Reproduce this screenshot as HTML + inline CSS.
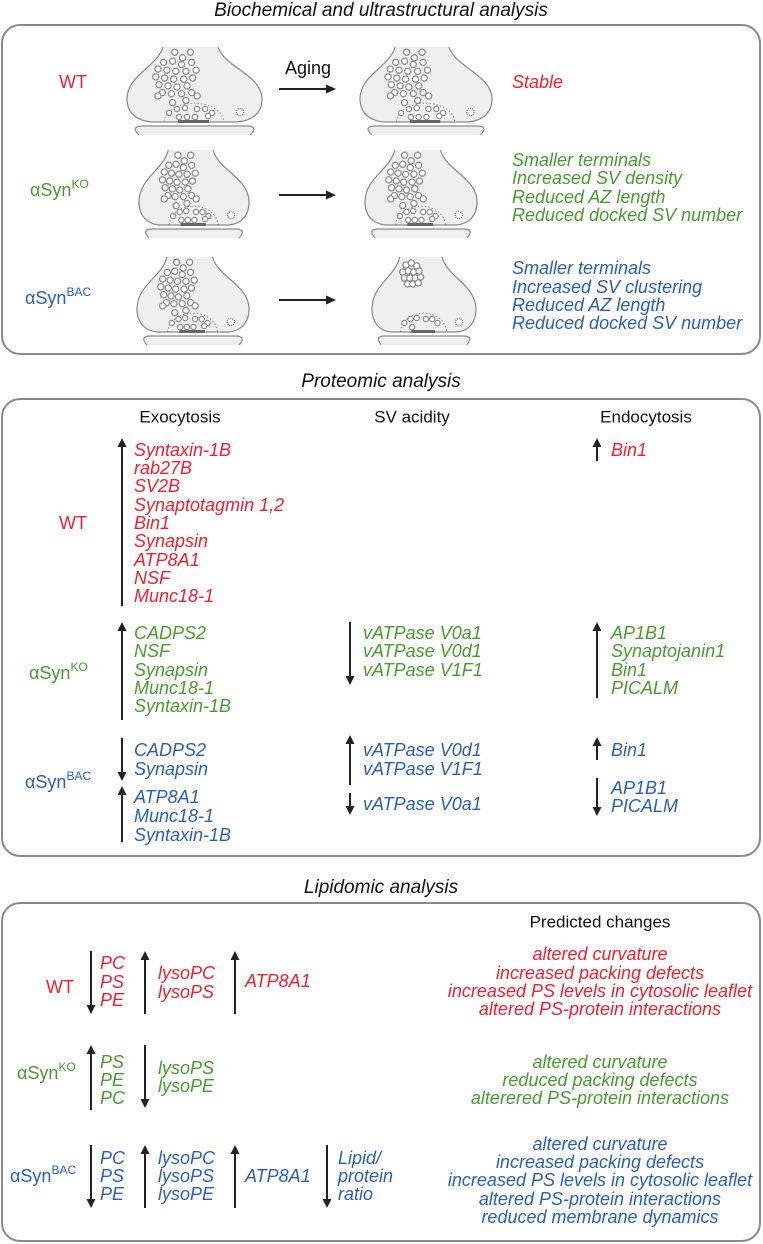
<!DOCTYPE html>
<html><head><meta charset="utf-8"><style>
html,body{margin:0;padding:0;background:#fff;}
svg{display:block;font-family:"Liberation Sans",sans-serif;}
.r{fill:#ee2030}.g{fill:#4a9a32}.b{fill:#2a5fb5}
.it{font-style:italic;font-size:18px}
.lab{font-size:18px}
.hd{font-size:17px;fill:#111}
.tt{font-style:italic;font-size:19px;fill:#111}
</style></head><body>
<svg id="fig" width="763" height="1244" viewBox="0 0 763 1244">
<text class="tt" x="381" y="16" text-anchor="middle">Biochemical and ultrastructural analysis</text>
<rect x="2" y="25" width="758" height="329" rx="18" fill="none" stroke="#8a8a8a" stroke-width="2"/>
<text class="tt" x="381" y="387" text-anchor="middle">Proteomic analysis</text>
<rect x="2" y="399" width="758" height="457" rx="18" fill="none" stroke="#8a8a8a" stroke-width="2"/>
<text class="tt" x="381" y="893" text-anchor="middle">Lipidomic analysis</text>
<rect x="2" y="903" width="758" height="338" rx="18" fill="none" stroke="#8a8a8a" stroke-width="2"/>

<g id="syn"></g>
<g id="arr"></g>

<g dominant-baseline="central">
<text class="lab r" x="73" y="82" text-anchor="middle">WT</text>
<text class="lab g" x="30" y="190">αSyn<tspan font-size="12" dy="-6">KO</tspan></text>
<text class="lab b" x="25" y="298">αSyn<tspan font-size="12" dy="-6">BAC</tspan></text>
<text x="308" y="68" font-size="18" text-anchor="middle" fill="#111">Aging</text>
<text class="it r" x="512" y="82">Stable</text>
<g class="it g">
<text x="512" y="160">Smaller terminals</text><text x="512" y="178">Increased SV density</text><text x="512" y="197">Reduced AZ length</text><text x="512" y="215">Reduced docked SV number</text></g>
<g class="it b">
<text x="512" y="268">Smaller terminals</text><text x="512" y="287">Increased SV clustering</text><text x="512" y="305">Reduced AZ length</text><text x="512" y="323">Reduced docked SV number</text></g>

<text class="hd" x="180" y="417" text-anchor="middle">Exocytosis</text>
<text class="hd" x="412" y="417" text-anchor="middle">SV acidity</text>
<text class="hd" x="646" y="417" text-anchor="middle">Endocytosis</text>
<text class="lab r" x="73" y="523" text-anchor="middle">WT</text>
<text class="lab g" x="29" y="673">αSyn<tspan font-size="12" dy="-6">KO</tspan></text>
<text class="lab b" x="25" y="782">αSyn<tspan font-size="12" dy="-6">BAC</tspan></text>
<g class="it r">
<text x="134" y="450">Syntaxin-1B</text><text x="134" y="468">rab27B</text><text x="134" y="486">SV2B</text><text x="134" y="505">Synaptotagmin 1,2</text><text x="134" y="523">Bin1</text><text x="134" y="541">Synapsin</text><text x="134" y="560">ATP8A1</text><text x="134" y="578">NSF</text><text x="134" y="596">Munc18-1</text></g>
<text class="it r" x="611" y="450">Bin1</text>
<g class="it g">
<text x="134" y="633">CADPS2</text><text x="134" y="651">NSF</text><text x="134" y="670">Synapsin</text><text x="134" y="688">Munc18-1</text><text x="134" y="706">Syntaxin-1B</text></g>
<g class="it g">
<text x="363" y="633">vATPase V0a1</text><text x="363" y="651">vATPase V0d1</text><text x="363" y="670">vATPase V1F1</text></g>
<g class="it g">
<text x="611" y="633">AP1B1</text><text x="611" y="651">Synaptojanin1</text><text x="611" y="670">Bin1</text><text x="611" y="688">PICALM</text></g>
<g class="it b">
<text x="134" y="750">CADPS2</text><text x="134" y="769">Synapsin</text><text x="134" y="797">ATP8A1</text><text x="134" y="816">Munc18-1</text><text x="134" y="835">Syntaxin-1B</text></g>
<g class="it b">
<text x="363" y="750">vATPase V0d1</text><text x="363" y="769">vATPase V1F1</text><text x="363" y="804">vATPase V0a1</text></g>
<g class="it b">
<text x="611" y="750">Bin1</text><text x="611" y="788">AP1B1</text><text x="611" y="806">PICALM</text></g>

<text class="hd" x="600" y="922" text-anchor="middle">Predicted changes</text>
<text class="lab r" x="60" y="987" text-anchor="middle">WT</text>
<text class="lab g" x="17" y="1073">αSyn<tspan font-size="12" dy="-6">KO</tspan></text>
<text class="lab b" x="10" y="1176">αSyn<tspan font-size="12" dy="-6">BAC</tspan></text>
<g class="it r">
<text x="100" y="963">PC</text><text x="100" y="982">PS</text><text x="100" y="1000">PE</text>
<text x="158" y="973">lysoPC</text><text x="158" y="992">lysoPS</text>
<text x="245" y="981">ATP8A1</text></g>
<g class="it g">
<text x="100" y="1062">PS</text><text x="100" y="1080">PE</text><text x="100" y="1098">PC</text>
<text x="158" y="1068">lysoPS</text><text x="158" y="1086">lysoPE</text></g>
<g class="it b">
<text x="100" y="1158">PC</text><text x="100" y="1176">PS</text><text x="100" y="1194">PE</text>
<text x="158" y="1158">lysoPC</text><text x="158" y="1176">lysoPS</text><text x="158" y="1194">lysoPE</text>
<text x="245" y="1176">ATP8A1</text>
<text x="338" y="1158">Lipid/</text><text x="338" y="1176">protein</text><text x="338" y="1194">ratio</text></g>
<g class="it r" text-anchor="middle">
<text x="600" y="954">altered curvature</text><text x="600" y="973">increased packing defects</text><text x="600" y="991">increased PS levels in cytosolic leaflet</text><text x="600" y="1009">altered PS-protein interactions</text></g>
<g class="it g" text-anchor="middle">
<text x="600" y="1062">altered curvature</text><text x="600" y="1080">reduced packing defects</text><text x="600" y="1098">alterered PS-protein interactions</text></g>
<g class="it b" text-anchor="middle">
<text x="600" y="1144">altered curvature</text><text x="600" y="1162">increased packing defects</text><text x="600" y="1180">increased PS levels in cytosolic leaflet</text><text x="600" y="1199">altered PS-protein interactions</text><text x="600" y="1217">reduced membrane dynamics</text></g>
</g>
</svg>
<script>
const NS='http://www.w3.org/2000/svg';
function mk(tag,attrs,parent){const e=document.createElementNS(NS,tag);for(const k in attrs)e.setAttribute(k,attrs[k]);parent.appendChild(e);return e;}
const arrowStarts=[[279,89],[279,195],[279,300]];
const arrowLen=[57,57,57];
const vArrows=[
 [122,438,606,'up'],[597,438,461,'up'],
 [122,622,720,'up'],[350,622,685,'down'],[597,622,698,'up'],
 [122,738,781,'down'],[122,786,842,'up'],[350,735,785,'up'],[350,793,815,'down'],[597,737,760,'up'],[597,778,816,'down'],
 [91,951,1014,'down'],[145,951,1014,'up'],[235,951,1014,'up'],
 [91,1045,1110,'up'],[145,1045,1108,'down'],
 [91,1145,1208,'down'],[145,1145,1208,'up'],[235,1145,1208,'up'],[327,1145,1208,'down']
];
const A=document.getElementById('arr');
function head(x,y,dir){const d=dir==='up'?-1:1;
 const p=mk('polygon',{points:`${x-4.5},${y-9*d} ${x+4.5},${y-9*d} ${x},${y}`,fill:'#222'},A);
 
 }
arrowStarts.forEach((s,i)=>{const l=mk('line',{x1:s[0],y1:s[1],x2:s[0]+arrowLen[i]-8,y2:s[1],stroke:'#222','stroke-width':2},A);
 
 
 const p=mk('polygon',{points:`${s[0]+arrowLen[i]-10},${s[1]-4.5} ${s[0]+arrowLen[i]-10},${s[1]+4.5} ${s[0]+arrowLen[i]},${s[1]}`,fill:'#222'},A);
 
 });
vArrows.forEach(a=>{const [x,y1,y2,dir]=a;
 const l=mk('line',{x1:x,y1:dir==='up'?y1+6:y1,x2:x,y2:dir==='up'?y2:y2-6,stroke:'#222','stroke-width':2},A);
 
 
 head(x,dir==='up'?y1:y2,dir);});

const S=document.getElementById('syn');
const ves=[[48,5],[62,5],[55,10],[38,14],[46,13],[54,16],[63,14],[67,21],[33,20],[41,21],[49,22],[58,22],[31,27],[39,28],[47,29],[56,29],[64,28],[34,34],[42,35],[50,36],[59,35],[37,41],[45,42],[54,42],[63,41],[46,50],[58,48],[68,44],[33,44]];
const docked=[[42,66],[50,62],[58,61],[70,62],[78,62],[85,66],[52,70],[60,70],[68,70],[81,69]];
const clustered=[[44,8],[51,6],[58,9],[40,15],[47,14],[54,15],[61,14],[42,21],[49,21],[56,21],[63,20],[46,27],[53,27],[60,26]];
function synapse(x0,y0,w,type){
 const g=mk('g',{transform:`translate(${x0},${y0})`},S);
 
 
 const s=w/135,X=v=>v*s;
 mk('path',{d:`M${X(36)},0 C${X(30)},20 0,28 0,52 C0,66 ${X(10)},74 ${X(25)},75 L${X(110)},75 C${X(125)},74 ${X(135)},66 ${X(135)},52 C${X(135)},28 ${X(97)},20 ${X(91)},0`,fill:'#efefef',stroke:'#8a8a8a','stroke-width':1.2},g);
 mk('path',{d:`M${X(12)},88 C${X(8)},84 ${X(5)},80 ${X(14)},79 L${X(121)},79 C${X(130)},80 ${X(127)},84 ${X(123)},88`,fill:'#efefef',stroke:'#8a8a8a','stroke-width':1.2},g);
 mk('path',{d:`M${X(37)},75 C${X(40)},50 ${X(94)},50 ${X(97)},75`,fill:'none',stroke:'#888','stroke-width':1,'stroke-dasharray':'1.5 2'},g);
 mk('rect',{x:X(51),y:73,width:X(31),height:3,fill:'#666'},g);
 const list=type==='cluster'?clustered:ves;
 const k=type==='cluster'?1:1.12;
 list.forEach(v=>mk('circle',{cx:X(50+(v[0]-50)*k),cy:3+(v[1]-3)*k,r:3.1,fill:'#fff',stroke:'#888','stroke-width':1.2},g));
 (type==='cluster'?docked.slice(0,7):docked).forEach(v=>mk('circle',{cx:X(v[0]),cy:v[1],r:2.7,fill:'#fff',stroke:'#888','stroke-width':1.1},g));
 mk('circle',{cx:X(113),cy:65,r:3.5,fill:'#fff',stroke:'#888','stroke-width':1.6,'stroke-dasharray':'1 1'},g);
}
synapse(127,47,135,'n');synapse(360,47,132,'n');
synapse(139,150,110,'n');synapse(365,150,112,'n');
synapse(137,257,112,'n');synapse(372,257,104,'cluster');
</script>
</body></html>
